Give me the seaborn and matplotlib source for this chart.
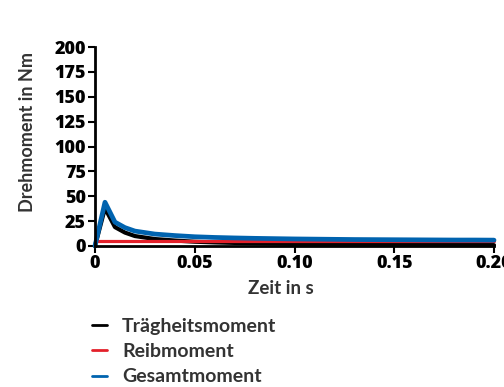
import matplotlib
matplotlib.use("Agg")
import matplotlib.pyplot as plt
import seaborn as sns
import pandas as pd
from matplotlib.lines import Line2D

zeit = [0, 0.005, 0.01, 0.015, 0.02, 0.03, 0.04, 0.05, 0.06, 0.07, 0.08, 0.09,
        0.10, 0.11, 0.12, 0.13, 0.14, 0.15, 0.16, 0.17, 0.18, 0.19, 0.20]
traegheit = [0, 38, 19, 13.5, 10, 7, 5.5, 4.3, 3.6, 3.1, 2.7, 2.4,
             2.1, 1.9, 1.7, 1.5, 1.4, 1.3, 1.2, 1.1, 1.0, 1.0, 0.9]
reib = [5.0] * len(zeit)
gesamt = [0, 44, 24, 18.5, 15, 12, 10.5, 9.3, 8.6, 8.1, 7.7, 7.4,
          7.1, 6.9, 6.7, 6.5, 6.4, 6.3, 6.2, 6.1, 6.0, 6.0, 5.9]
series_names = ["Trägheitsmoment", "Reibmoment", "Gesamtmoment"]
colors = ["#000000", "#E3202A", "#0063AF"]
widths = [3.0, 2.3, 3.4]
xticks = [0, 0.05, 0.10, 0.15, 0.20]
xticklabels = ["0", "0.05", "0.10", "0.15", "0.20"]
yticks = list(range(0, 201, 25))

df = pd.concat([
    pd.DataFrame({"Zeit": zeit, "Wert": vals, "Serie": name})
    for name, vals in zip(series_names, [traegheit, reib, gesamt])
])

sns.set_theme(style="white")
plt.rcParams["font.family"] = ["Lato", "DejaVu Sans"]
plt.rcParams["font.weight"] = "bold"

fig = plt.figure(figsize=(5.04, 3.87), dpi=100)
ax = fig.add_axes([95/504, 1-246/387, 399/504, 199/387])

for name, col, lw in zip(series_names, colors, widths):
    sns.lineplot(data=df[df["Serie"] == name], x="Zeit", y="Wert", color=col,
                 linewidth=lw, ax=ax, legend=False, clip_on=False)

ax.set_xlim(0, 0.2)
ax.set_ylim(0, 200)
ax.set_xticks(xticks)
ax.set_xticklabels(xticklabels)
ax.set_yticks(yticks)
for lab in ax.get_xticklabels() + ax.get_yticklabels():
    lab.set_family(["Open Sans", "DejaVu Sans"])
    lab.set_fontweight(800)
    lab.set_fontsize(13)
    lab.set_color("black")
ax.set_xlabel("Zeit in s", fontsize=13.5, fontweight="bold", color="#333333")
ax.set_ylabel("Drehmoment in Nm", fontsize=13, fontweight="bold", color="#333333")
ax.xaxis.set_label_coords(0.466, -0.17)
ax.yaxis.set_label_coords(-0.148, 0.572)
ax.tick_params(axis="both", direction="out", length=5, width=1.5, color="black",
               bottom=True, left=True, pad=1.5)
for s in ["top", "right"]:
    ax.spines[s].set_visible(False)
for s in ["left", "bottom"]:
    ax.spines[s].set_color("black")
    ax.spines[s].set_linewidth(2)

handles = [Line2D([0], [0], color=c, lw=2) for c in colors]
leg = fig.legend(handles, series_names, loc="upper left",
                 bbox_to_anchor=(92/504, 1-318/387), frameon=False,
                 handlelength=0.75, handletextpad=0.8, labelspacing=0.42,
                 borderpad=0, borderaxespad=0,
                 prop={"weight": "bold", "size": 14})
for t in leg.get_texts():
    t.set_color("#333333")

fig.savefig("out.png", dpi=100)
